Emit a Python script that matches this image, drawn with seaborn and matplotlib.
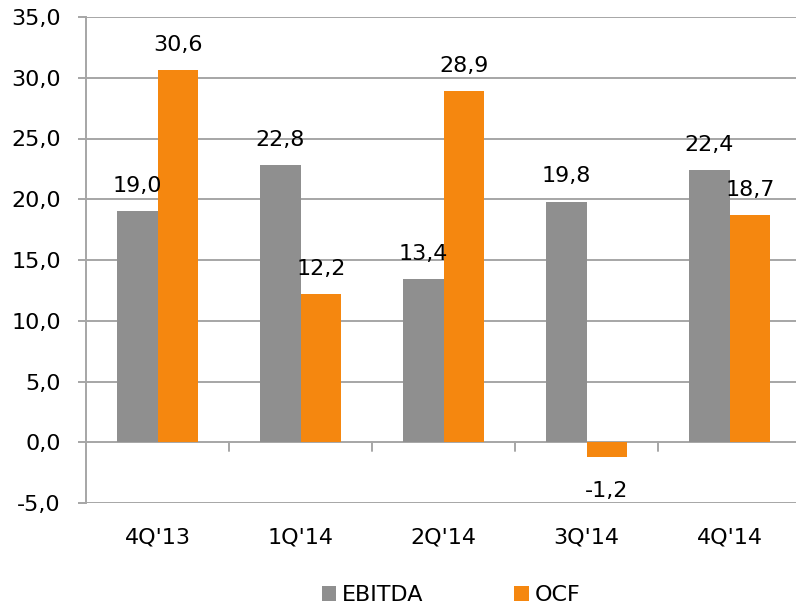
import matplotlib
matplotlib.use("Agg")
import matplotlib.pyplot as plt
import seaborn as sns
import pandas as pd
from matplotlib.patches import Patch

categories = ["4Q'13", "1Q'14", "2Q'14", "3Q'14", "4Q'14"]
ebitda = [19.0, 22.8, 13.4, 19.8, 22.4]
ocf = [30.6, 12.2, 28.9, -1.2, 18.7]
series = ["EBITDA", "OCF"]
yticks = [-5, 0, 5, 10, 15, 20, 25, 30, 35]

colors = {"EBITDA": "#8F8F8F", "OCF": "#F5870F"}
grid_c = "#A6A6A6"

df = pd.DataFrame({
    "quarter": categories * 2,
    "series": [series[0]] * len(categories) + [series[1]] * len(categories),
    "value": ebitda + ocf,
})

sns.set_theme(style="white")
plt.rcParams["font.family"] = ["DejaVu Sans"]
FS = 16

W, H = 796, 610
fig = plt.figure(figsize=(W / 100, H / 100), dpi=100)
ax = fig.add_axes([86 / W, (H - 503) / H, (W - 86) / W, 486 / H])

sns.barplot(data=df, x="quarter", y="value", hue="series", palette=colors,
            width=0.568, gap=0, saturation=1, ax=ax, legend=False,
            order=categories, hue_order=series, edgecolor="none", linewidth=0)

ax.set_ylim(-5, 35)
ax.set_xlim(-0.5, -0.5 + (W - 86) / 143)
ax.set_yticks(yticks)
ax.set_yticklabels([f"{v:.1f}".replace(".", ",") for v in yticks], fontsize=FS, color="black")
ax.set_xlabel("")
ax.set_ylabel("")

for v in yticks:
    ax.axhline(v, color=grid_c, lw=1.4, zorder=0)

for s in ["top", "right", "bottom"]:
    ax.spines[s].set_visible(False)
ax.spines["left"].set_color(grid_c)
ax.spines["left"].set_linewidth(1.4)
ax.tick_params(axis="y", length=6, width=1.4, color=grid_c, pad=12, left=True)
ax.tick_params(axis="x", length=0, pad=18, labelsize=FS, colors="black")

# category separator tick marks on the zero line
for i in range(1, len(categories)):
    ax.plot([i - 0.5, i - 0.5], [0, -0.7], color=grid_c, lw=1.4, zorder=1)

# value labels
for cont, vals in zip(ax.containers, [ebitda, ocf]):
    for bar, v in zip(cont, vals):
        x = bar.get_x() + bar.get_width() / 2
        txt = f"{v:.1f}".replace(".", ",")
        if v >= 0:
            ax.annotate(txt, (x, v), xytext=(0, 11), textcoords="offset points",
                        ha="center", va="bottom", fontsize=FS, color="black")
        else:
            ax.annotate(txt, (x, v), xytext=(0, -17.5), textcoords="offset points",
                        ha="center", va="top", fontsize=FS, color="black")

handles = [Patch(facecolor=colors[s], edgecolor="none", label=s) for s in series]
leg = fig.legend(handles=handles, loc="center", bbox_to_anchor=(451 / W, 1 - 595 / H),
                 ncol=2, frameon=False, fontsize=FS, handlelength=0.65, handleheight=0.65,
                 handletextpad=0.25, columnspacing=4.1)
for t in leg.get_texts():
    t.set_color("black")

fig.savefig("out.png", dpi=100)
